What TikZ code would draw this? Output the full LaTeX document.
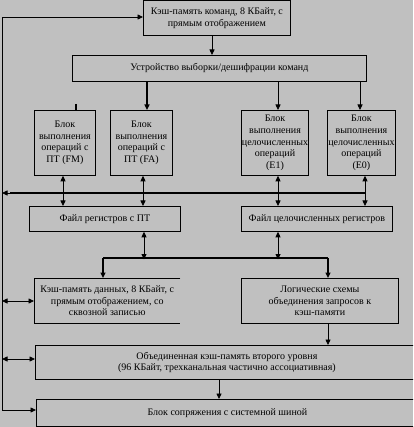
\documentclass[tikz,border=0pt]{standalone}
\usepackage{fontspec}
\setmainfont{Liberation Serif}
\usetikzlibrary{arrows.meta}
\definecolor{bgc}{HTML}{C0C0C0}
\begin{document}
\begin{tikzpicture}[x=1pt,y=-1pt,
  box/.style={draw, line width=0.8pt, inner sep=0.5pt, align=center,
    font=\fontsize{10}{11.6}\selectfont, anchor=north west},
  openbox/.style={inner sep=0.5pt, align=center,
    font=\fontsize{10}{11.6}\selectfont, anchor=north west},
  ln/.style={line width=0.8pt},
  bus/.style={line width=2.4pt},
  tip/.style={-{Triangle[length=5.5pt,width=5pt]}},
  dtip/.style={{Triangle[length=5.5pt,width=5pt]}-{Triangle[length=5.5pt,width=5pt]}}]
\fill[bgc] (0,0) rectangle (413,427);
\clip (0,0) rectangle (413,427);
\useasboundingbox (0,0) rectangle (413,427);

% boxes
\node[box, minimum width=147pt, minimum height=35pt] (ic) at (143,0)
  {Кэш-память команд, 8 КБайт, с\\прямым отображением};
\node[box, minimum width=294pt, minimum height=26pt] (dec) at (72,55)
  {Устройство выборки/дешифрации команд};
\node[box, minimum width=61pt, minimum height=65pt] (fm) at (34,110)
  {Блок\\выполнения\\операций с\\ПТ (FM)};
\node[box, minimum width=62pt, minimum height=65pt] (fa) at (110,110)
  {Блок\\выполнения\\операций с\\ПТ (FA)};
\node[box, minimum width=66pt, minimum height=65pt] (e1) at (241,110)
  {Блок\\выполнения\\целочисленных\\операций\\(E1)};
\node[box, minimum width=68pt, minimum height=65pt] (e0) at (327,110)
  {Блок\\выполнения\\целочисленных\\операций\\(E0)};
\node[box, minimum width=151pt, minimum height=25pt] (rfp) at (29,206)
  {Файл регистров с ПТ};
\node[box, minimum width=151pt, minimum height=25pt] (rfi) at (241,206)
  {Файл целочисленных регистров};
\node[openbox, minimum width=146pt, minimum height=45pt] (dc) at (34,278)
  {Кэш-память данных, 8 КБайт, с\\прямым отображением, со\\сквозной записью};
\draw[ln] (dc.north east) -- (dc.north west) -- (dc.south west) -- (dc.south east);
\node[box, minimum width=157pt, minimum height=45pt] (lg) at (241,278)
  {Логические схемы\\объединения запросов к\\кэш-памяти};
\node[box, minimum width=383pt, minimum height=34pt] (l2) at (35,345)
  {Объединенная кэш-память второго уровня\\(96 КБайт, трехканальная частично ассоциативная)};
\node[box, minimum width=382pt, minimum height=27pt] (biu) at (36,399)
  {Блок сопряжения с системной шиной};

% coordinates
\coordinate (lt) at (2,17);
\coordinate (lb) at (2,410);
\coordinate (bl) at (2,193);
\coordinate (br) at (365,193);
\coordinate (b2l) at (103,258);
\coordinate (b2r) at (328,258);
\coordinate (stub) at (76,104);

% left loop
\draw[ln] (lb) -- (lt);
\draw[ln,tip] (lt) -- (ic.west |- lt);
\draw[ln,tip] (lb) -- (biu.west |- lb);
% top to decoder
\draw[ln,tip] (ic.south -| 212,0) -- (dec.north -| 212,0);
% decoder to units
\draw[line width=1.8pt,tip] (dec.south -| 147,0) -- (fa.north -| 147,0);
\draw[ln,tip] (dec.south -| 278,0) -- (e1.north -| 278,0);
\draw[ln,tip] (dec.south -| 360,0) -- (e0.north -| 360,0);
\draw[line width=1.8pt] (stub) -- (fm.north -| stub);
% bus
\draw[bus] (br) -- ([xshift=8pt]bl);
\draw[ln,tip] ([xshift=10pt]bl) -- (bl);
\draw[ln,dtip] (fm.south -| 63,0) -- (rfp.north -| 63,0);
\draw[ln,dtip] (fa.south -| 143,0) -- (rfp.north -| 143,0);
\draw[ln,dtip] (e1.south -| 278,0) -- (rfi.north -| 278,0);
\draw[ln,dtip] (e0.south -| 365,0) -- (rfi.north -| 365,0);
% register files to lower bus
\draw[ln,dtip] (rfp.south -| 144,0) -- ([yshift=-1.5pt]b2l -| 144,0);
\draw[ln,dtip] (rfi.south -| 278,0) -- ([yshift=-1.5pt]b2l -| 278,0);
\draw[bus] (b2l) -- (b2r);
\draw[line width=1.8pt,tip] (b2l) -- (dc.north -| b2l);
\draw[line width=1.8pt,tip] (b2r) -- (lg.north -| b2r);
% logic to L2, L2 to BIU
\draw[ln,tip] (lg.south -| 328,0) -- (l2.north -| 328,0);
\draw[ln,tip] (l2.south -| 219,0) -- (biu.north -| 219,0);
% left double arrows
\draw[ln,dtip] (2,301) -- (dc.west |- 0,301);
\draw[ln,dtip] (2,359) -- (l2.west |- 0,359);
\end{tikzpicture}
\end{document}
